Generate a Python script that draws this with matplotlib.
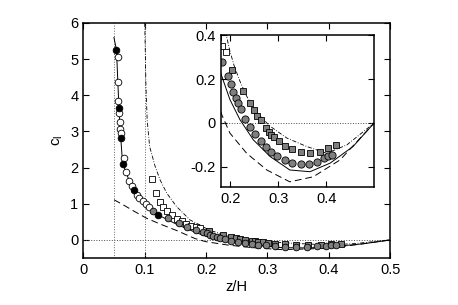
import numpy as np
import matplotlib.pyplot as plt

plt.rcParams['font.family'] = ['Liberation Sans', 'DejaVu Sans']
plt.rcParams['mathtext.fontset'] = 'custom'
plt.rcParams['mathtext.rm'] = 'Liberation Sans'

# measured points, z/H vs c_l
black_x = [0.054, 0.058, 0.061, 0.064, 0.083, 0.122]
black_y = [5.25, 3.64, 2.81, 2.09, 1.38, 0.69]

open_x = [0.056, 0.057, 0.057, 0.058, 0.059, 0.060, 0.061, 0.066, 0.069, 0.075,
          0.079, 0.087, 0.091, 0.097, 0.102, 0.107]
open_y = [5.05, 4.37, 3.85, 3.50, 3.27, 3.08, 2.95, 2.27, 1.89, 1.62,
          1.50, 1.24, 1.15, 1.07, 0.99, 0.91]

gcirc_x = [0.114, 0.138, 0.156, 0.169, 0.183, 0.195, 0.201, 0.206, 0.212, 0.217,
           0.222, 0.231, 0.241, 0.252, 0.264, 0.274, 0.285, 0.298, 0.313, 0.329,
           0.347, 0.364, 0.381, 0.395, 0.403, 0.411]
gcirc_y = [0.81, 0.61, 0.46, 0.37, 0.278, 0.214, 0.179, 0.140, 0.115, 0.089,
           0.064, 0.018, -0.018, -0.049, -0.084, -0.110, -0.130, -0.149, -0.168, -0.183,
           -0.187, -0.188, -0.176, -0.158, -0.149, -0.145]

osq_x = [0.112, 0.119, 0.125, 0.130, 0.137, 0.144, 0.153, 0.160, 0.168, 0.175, 0.183, 0.190]
osq_y = [1.68, 1.31, 1.06, 0.92, 0.80, 0.69, 0.58, 0.51, 0.44, 0.39, 0.351, 0.324]

gsq_x = [0.204, 0.227, 0.241, 0.249, 0.256, 0.264, 0.274, 0.280, 0.284, 0.292,
         0.301, 0.313, 0.329, 0.347, 0.366, 0.387, 0.404, 0.420]
gsq_y = [0.241, 0.145, 0.092, 0.058, 0.033, 0.012, -0.023, -0.040, -0.054, -0.066,
         -0.081, -0.103, -0.119, -0.133, -0.135, -0.130, -0.115, -0.100]

# model curves
solid_x = [0.0498, 0.054, 0.058, 0.061, 0.064, 0.069, 0.075, 0.083, 0.097, 0.122,
           0.150, 0.170, 0.182, 0.199, 0.220, 0.248, 0.283, 0.324, 0.366, 0.408, 0.456, 0.5]
solid_y = [5.6, 5.25, 3.64, 2.81, 2.09, 1.90, 1.62, 1.38, 1.07, 0.69,
           0.45, 0.30, 0.214, 0.107, 0.015, -0.077, -0.153, -0.214, -0.222, -0.183, -0.107, 0.0]

dash_x = [0.05, 0.065, 0.081, 0.103, 0.125, 0.152, 0.182, 0.199, 0.234, 0.276,
          0.324, 0.373, 0.429, 0.5]
dash_y = [1.11, 0.97, 0.81, 0.60, 0.44, 0.26, 0.038, -0.046, -0.138, -0.214,
          -0.268, -0.245, -0.168, 0.0]

dd_x = [0.100, 0.102, 0.104, 0.108, 0.117, 0.125, 0.136, 0.152, 0.174, 0.191,
        0.199, 0.208, 0.220, 0.234, 0.255, 0.283, 0.318, 0.359, 0.401, 0.443, 0.5]
dd_y = [6.0, 4.24, 3.31, 2.58, 2.03, 1.66, 1.29, 0.92, 0.55, 0.405,
        0.328, 0.26, 0.19, 0.122, 0.046, -0.015, -0.069, -0.107, -0.138, -0.10, 0.0]

gray = '#7f7f7f'


def draw(ax, ms):
    ax.plot(dash_x, dash_y, color='k', lw=0.7, linestyle=(0, (7, 4)))
    ax.plot(dd_x, dd_y, color='k', lw=0.6, linestyle=(0, (5, 2, 1, 2)))
    ax.plot(solid_x, solid_y, color='k', lw=0.7)
    ax.plot(osq_x, osq_y, 's', ms=ms * 0.85, mfc='white', mec='k', mew=0.6)
    ax.plot(gsq_x, gsq_y, 's', ms=ms * 0.85, mfc=gray, mec='k', mew=0.6)
    ax.plot(open_x, open_y, 'o', ms=ms, mfc='white', mec='k', mew=0.6)
    ax.plot(gcirc_x, gcirc_y, 'o', ms=ms, mfc=gray, mec='k', mew=0.6)
    ax.plot(black_x, black_y, 'o', ms=ms, mfc='k', mec='k', mew=0.6)


fig = plt.figure(figsize=(4.58, 3.05), dpi=100)
ax = fig.add_axes([0.182, 0.154, 0.670, 0.771])
ax.axvline(0.05, color='0.4', lw=0.7, linestyle=':')
ax.axvline(0.1, color='0.4', lw=0.7, linestyle=':')
ax.axhline(0, color='0.3', lw=0.7, linestyle=':')
draw(ax, 4.8)
ax.set_xlim(0, 0.5)
ax.set_ylim(-0.5, 6)
ax.set_xticks([0, 0.1, 0.2, 0.3, 0.4, 0.5])
ax.set_xticklabels(['0', '0.1', '0.2', '0.3', '0.4', '0.5'])
ax.set_yticks([0, 1, 2, 3, 4, 5, 6])
ax.tick_params(direction='in', top=True, right=True, labelsize=10.5, length=4, width=0.8)
for s in ax.spines.values():
    s.set_linewidth(1.1)
ax.set_xlabel('z/H', fontsize=10.5, labelpad=2)
ax.set_ylabel(r'c$_\mathregular{l}$', fontsize=11, labelpad=4)

ins = fig.add_axes([0.482, 0.388, 0.335, 0.497])
ins.axhline(0, color='0.3', lw=0.7, linestyle=':')
draw(ins, 5.2)
ins.set_xlim(0.18, 0.5)
ins.set_ylim(-0.29, 0.4)
ins.set_xticks([0.2, 0.3, 0.4])
ins.set_xticklabels(['0.2', '0.3', '0.4'])
ins.set_yticks([-0.2, 0, 0.2, 0.4])
ins.set_yticklabels(['-0.2', '0', '0.2', '0.4'])
ins.tick_params(direction='in', top=True, right=True, labelsize=10.5, length=4, width=0.8)
for s in ins.spines.values():
    s.set_linewidth(1.1)

fig.savefig('out.png', dpi=100)
